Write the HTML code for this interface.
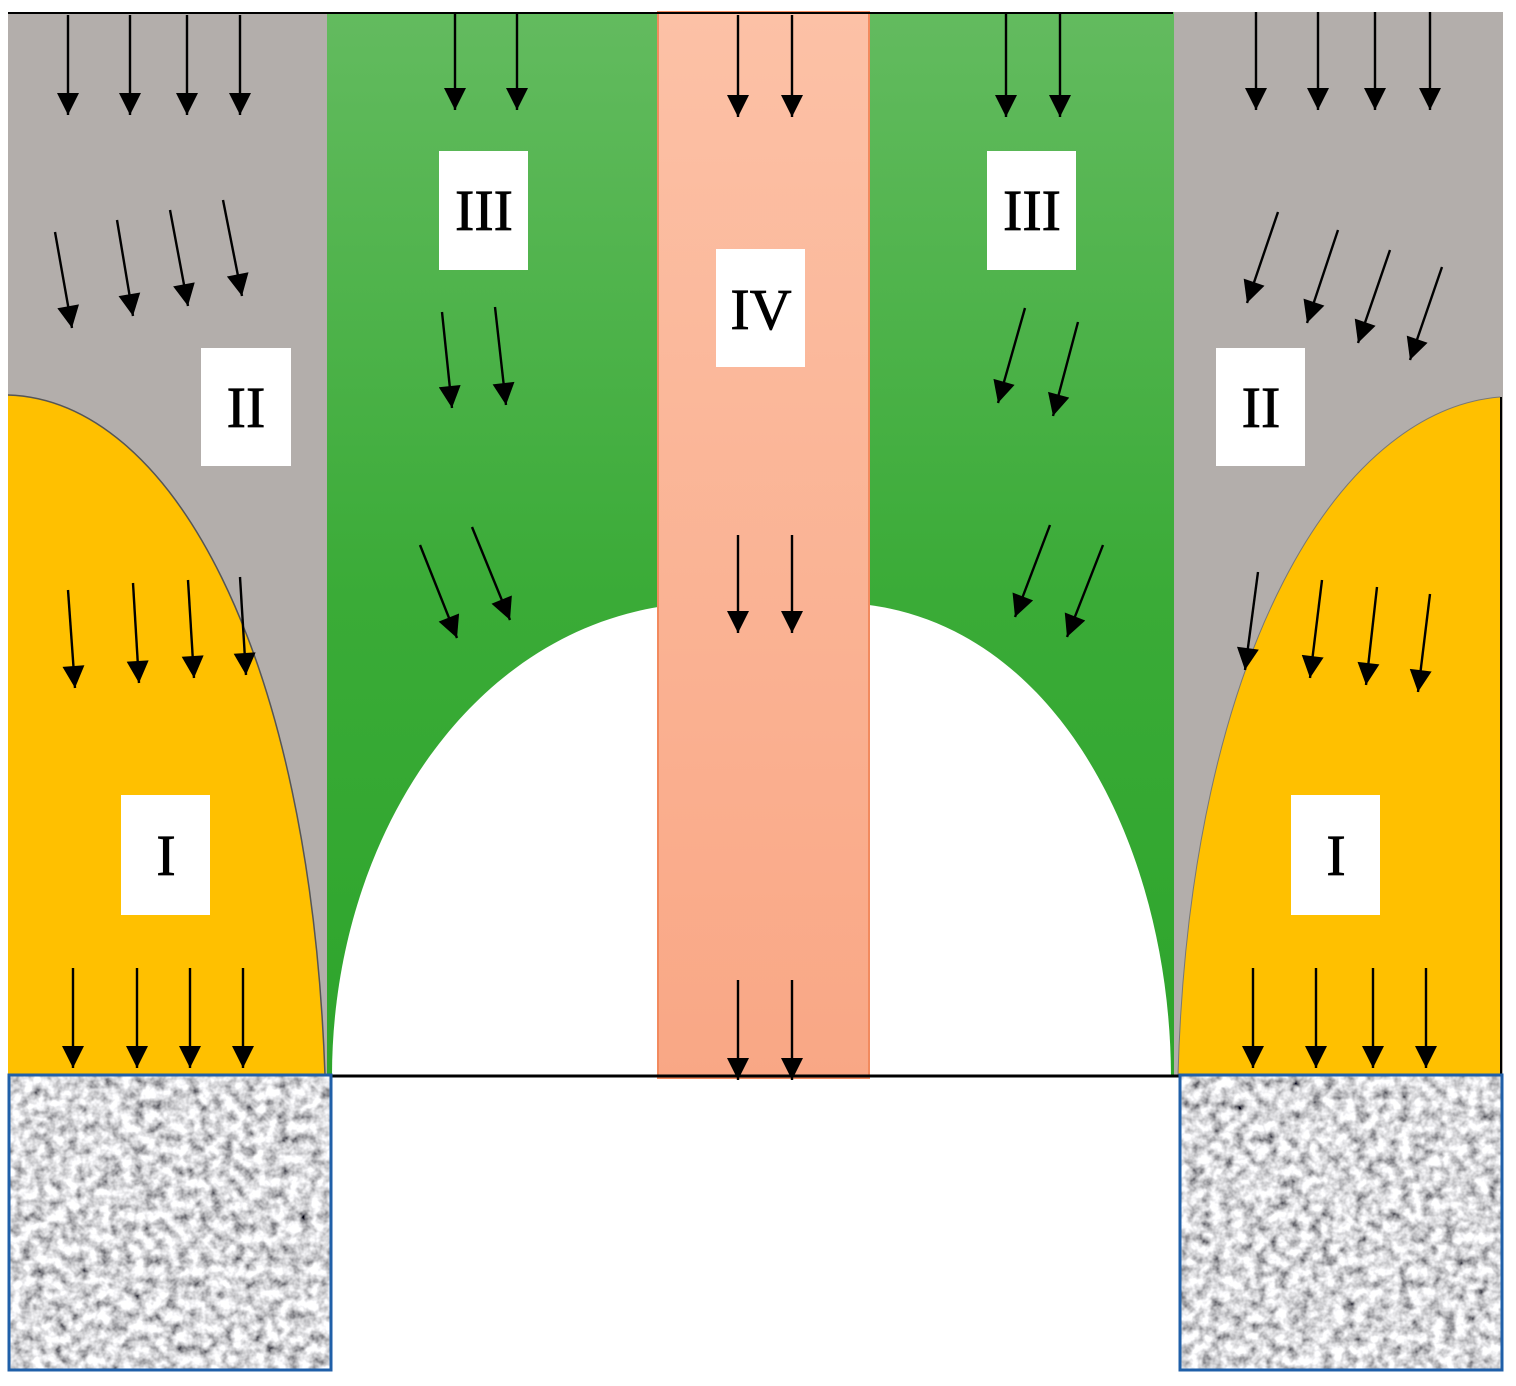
<!DOCTYPE html>
<html><head><meta charset="utf-8"><style>html,body{margin:0;padding:0;background:#fff}svg{display:block}</style></head><body>
<svg width="1516" height="1386" viewBox="0 0 1516 1386" xmlns="http://www.w3.org/2000/svg">
<defs>
<linearGradient id="g" x1="0" y1="0" x2="0" y2="1"><stop offset="0" stop-color="#63bb5f"/><stop offset="0.55" stop-color="#3aab37"/><stop offset="1" stop-color="#2ea52c"/></linearGradient>
<linearGradient id="p" x1="0" y1="0" x2="0" y2="1"><stop offset="0" stop-color="#fcc1a6"/><stop offset="1" stop-color="#f9a785"/></linearGradient>
<filter id="n" x="0" y="0" width="100%" height="100%"><feTurbulence type="fractalNoise" baseFrequency="0.09" numOctaves="3" seed="5"/><feColorMatrix type="matrix" values="1.7 0 0 0 -0.15  1.7 0 0 0 -0.15  1.7 0 0 0 -0.13  0 0 0 0 1"/></filter>
<marker id="h" viewBox="0 0 10 10" refX="10" refY="5" markerWidth="24" markerHeight="22" orient="auto" markerUnits="userSpaceOnUse"><path d="M0,0 L10,5 L0,10 z" fill="#000"/></marker>
</defs>
<rect x="8" y="12" width="320" height="1064" fill="#b3aeab"/>
<rect x="1173" y="12" width="330" height="1064" fill="#b3aeab"/>
<rect x="327" y="12" width="332" height="1064" fill="url(#g)"/>
<rect x="869" y="12" width="305" height="1064" fill="url(#g)"/>
<path d="M332,1076 C332,850 460,640 658,607 L658,1076 Z" fill="#fff"/>
<path d="M869,605 C1060,630 1170,850 1171,1076 L869,1076 Z" fill="#fff"/>
<rect x="658" y="12" width="211" height="1066" fill="url(#p)" stroke="#f28a5e" stroke-width="2"/>
<path d="M8,395 C170,400 310,650 325,1075 L8,1075 Z" fill="#ffc000"/>
<path d="M8,395 C170,400 310,650 325,1075" fill="none" stroke="#555" stroke-width="1.5"/>
<path d="M1500,397 C1340,410 1190,650 1178,1075 L1500,1075 Z" fill="#ffc000"/>
<path d="M1500,397 C1340,410 1190,650 1178,1075" fill="none" stroke="#777" stroke-width="1"/>
<line x1="1501" y1="397" x2="1501" y2="1076" stroke="#000" stroke-width="2"/>
<line x1="8" y1="13" x2="1173" y2="13" stroke="#000" stroke-width="2"/>
<line x1="331" y1="1076" x2="1180" y2="1076" stroke="#000" stroke-width="3"/>
<rect x="9" y="1075" width="322" height="295" filter="url(#n)"/>
<rect x="9" y="1075" width="322" height="295" fill="none" stroke="#1f5fa8" stroke-width="3"/>
<rect x="1180" y="1075" width="322" height="295" filter="url(#n)"/>
<rect x="1180" y="1075" width="322" height="295" fill="none" stroke="#1f5fa8" stroke-width="3"/>
<g stroke="#000" stroke-width="2.4" marker-end="url(#h)">
<line x1="68" y1="15" x2="68" y2="115"/><line x1="130" y1="15" x2="130" y2="115"/><line x1="187" y1="15" x2="187" y2="115"/><line x1="240" y1="15" x2="240" y2="115"/>
<line x1="55" y1="232" x2="72" y2="328"/><line x1="117" y1="220" x2="133" y2="316"/><line x1="170" y1="210" x2="188" y2="306"/><line x1="223" y1="200" x2="242" y2="296"/>
<line x1="68" y1="590" x2="75" y2="688"/><line x1="133" y1="583" x2="139" y2="683"/><line x1="188" y1="580" x2="194" y2="678"/><line x1="240" y1="577" x2="246" y2="675"/>
<line x1="73" y1="968" x2="73" y2="1068"/><line x1="137" y1="968" x2="137" y2="1068"/><line x1="190" y1="968" x2="190" y2="1068"/><line x1="243" y1="968" x2="243" y2="1068"/>
<line x1="455" y1="12" x2="455" y2="110"/><line x1="517" y1="12" x2="517" y2="110"/>
<line x1="442" y1="312" x2="452" y2="408"/><line x1="495" y1="307" x2="506" y2="405"/>
<line x1="420" y1="545" x2="457" y2="638"/><line x1="472" y1="527" x2="510" y2="620"/>
<line x1="738" y1="15" x2="738" y2="117"/><line x1="792" y1="15" x2="792" y2="117"/>
<line x1="738" y1="535" x2="738" y2="633"/><line x1="792" y1="535" x2="792" y2="633"/>
<line x1="738" y1="980" x2="738" y2="1080"/><line x1="792" y1="980" x2="792" y2="1080"/>
<line x1="1006" y1="12" x2="1006" y2="117"/><line x1="1060" y1="12" x2="1060" y2="117"/>
<line x1="1025" y1="308" x2="998" y2="403"/><line x1="1078" y1="322" x2="1053" y2="416"/>
<line x1="1050" y1="525" x2="1015" y2="617"/><line x1="1103" y1="545" x2="1067" y2="637"/>
<line x1="1256" y1="12" x2="1256" y2="110"/><line x1="1318" y1="12" x2="1318" y2="110"/><line x1="1375" y1="12" x2="1375" y2="110"/><line x1="1430" y1="12" x2="1430" y2="110"/>
<line x1="1278" y1="212" x2="1247" y2="303"/><line x1="1338" y1="230" x2="1307" y2="323"/><line x1="1390" y1="250" x2="1358" y2="343"/><line x1="1442" y1="267" x2="1410" y2="360"/>
<line x1="1258" y1="572" x2="1245" y2="670"/><line x1="1322" y1="580" x2="1310" y2="678"/><line x1="1377" y1="587" x2="1366" y2="685"/><line x1="1430" y1="594" x2="1418" y2="692"/>
<line x1="1253" y1="968" x2="1253" y2="1068"/><line x1="1316" y1="968" x2="1316" y2="1068"/><line x1="1373" y1="968" x2="1373" y2="1068"/><line x1="1426" y1="968" x2="1426" y2="1068"/>
</g>
<g fill="#fff">
<rect x="439" y="151" width="89" height="119"/><rect x="716" y="249" width="89" height="118"/><rect x="987" y="151" width="89" height="119"/>
<rect x="201" y="348" width="90" height="118"/><rect x="1216" y="348" width="89" height="118"/>
<rect x="121" y="795" width="89" height="120"/><rect x="1291" y="795" width="89" height="120"/>
</g>
<g font-family="Liberation Serif, serif" font-size="58" text-anchor="middle" fill="#000" stroke="#000" stroke-width="0.8">
<text x="484" y="230">III</text><text x="761" y="329">IV</text><text x="1032" y="230">III</text>
<text x="246" y="427">II</text><text x="1261" y="427">II</text>
<text x="166" y="875">I</text><text x="1336" y="875">I</text>
</g>
</svg>
</body></html>
